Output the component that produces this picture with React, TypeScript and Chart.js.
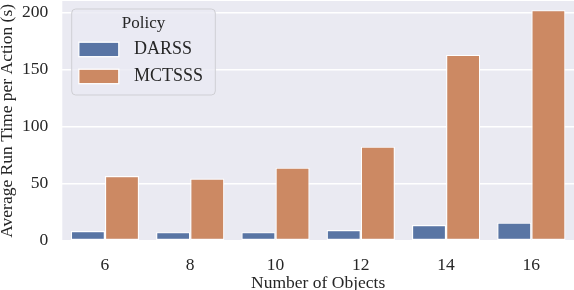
import React, { useEffect, useRef } from "react";
import { Chart, registerables } from "chart.js";

Chart.register(...registerables);

const categories = ["6", "8", "10", "12", "14", "16"];
const seriesNames = ["DARSS", "MCTSSS"];
const darssValues = [8.4, 7.5, 7.5, 9.3, 13.7, 15.8];
const mctsssValues = [56.6, 54.4, 64.0, 82.4, 162.8, 202.0];
const seriesColors = ["#5975a4", "#cc8963"];
const yTicks = [0, 50, 100, 150, 200];
const legendTitle = "Policy";
const xTitle = "Number of Objects";
const yTitle = "Average Run Time per Action (s)";

const FONT = "'Liberation Serif', 'Times New Roman', serif";

const bgPlugin = {
  id: "axesBg",
  beforeDraw(chart: any) {
    const { ctx, chartArea } = chart;
    ctx.save();
    ctx.fillStyle = "#eaeaf2";
    ctx.fillRect(chartArea.left, chartArea.top, chartArea.right - chartArea.left, chartArea.bottom - chartArea.top);
    ctx.restore();
  },
};

const legendPlugin = {
  id: "innerLegend",
  afterDraw(chart: any) {
    const { ctx } = chart;
    const x0 = 71.7, y0 = 9, x1 = 215.3, y1 = 95, r = 4;
    ctx.save();
    ctx.beginPath();
    ctx.moveTo(x0 + r, y0);
    ctx.lineTo(x1 - r, y0);
    ctx.quadraticCurveTo(x1, y0, x1, y0 + r);
    ctx.lineTo(x1, y1 - r);
    ctx.quadraticCurveTo(x1, y1, x1 - r, y1);
    ctx.lineTo(x0 + r, y1);
    ctx.quadraticCurveTo(x0, y1, x0, y1 - r);
    ctx.lineTo(x0, y0 + r);
    ctx.quadraticCurveTo(x0, y0, x0 + r, y0);
    ctx.closePath();
    ctx.fillStyle = "rgba(234,234,242,0.8)";
    ctx.fill();
    ctx.lineWidth = 1;
    ctx.strokeStyle = "#cfcfd4";
    ctx.stroke();

    ctx.fillStyle = "#262626";
    ctx.font = `17px ${FONT}`;
    ctx.textBaseline = "middle";
    ctx.textAlign = "center";
    ctx.fillText(legendTitle, (x0 + x1) / 2, 23.5);

    const rows = [49.2, 76.2];
    chart.data.datasets.forEach((ds: any, i: number) => {
      const cy = rows[i];
      ctx.fillStyle = ds.backgroundColor;
      ctx.fillRect(78.8, cy - 7, 40, 14.5);
      ctx.strokeStyle = "#ffffff";
      ctx.lineWidth = 1.3;
      ctx.strokeRect(78.8, cy - 7, 40, 14.5);
      ctx.fillStyle = "#262626";
      ctx.font = `18px ${FONT}`;
      ctx.textAlign = "left";
      ctx.fillText(ds.label, 134, cy + 0.5);
    });
    ctx.restore();
  },
};

export default function App() {
  const ref = useRef<HTMLCanvasElement | null>(null);
  useEffect(() => {
    if (!ref.current) return;
    const chart = new Chart(ref.current, {
      type: "bar",
      data: {
        labels: categories,
        datasets: [
          {
            label: seriesNames[0],
            data: darssValues,
            backgroundColor: seriesColors[0],
            borderColor: "#ffffff",
            borderWidth: 1.2,
            borderSkipped: false,
            categoryPercentage: 0.8,
            barPercentage: 1.0,
          },
          {
            label: seriesNames[1],
            data: mctsssValues,
            backgroundColor: seriesColors[1],
            borderColor: "#ffffff",
            borderWidth: 1.2,
            borderSkipped: false,
            categoryPercentage: 0.8,
            barPercentage: 1.0,
          },
        ],
      },
      options: {
        animation: false,
        responsive: true,
        maintainAspectRatio: false,
        layout: { padding: { top: 1, right: 0, left: 0, bottom: 0 } },
        plugins: {
          legend: { display: false },
          tooltip: { enabled: false },
        },
        scales: {
          x: {
            type: "category",
            offset: true,
            grid: { display: false, drawTicks: false },
            border: { display: false },
            ticks: {
              color: "#262626",
              font: { family: FONT, size: 17.5 },
              padding: 14,
              maxRotation: 0,
            },
            title: {
              display: true,
              text: xTitle,
              color: "#262626",
              font: { family: FONT, size: 17.5, lineHeight: 1 },
              padding: { top: 0, bottom: -2 },
            },
            afterFit(scale: any) {
              scale.height = 49.3;
              scale.paddingLeft = 0;
              scale.paddingRight = 0;
            },
          },
          y: {
            min: 0,
            max: 210,
            afterBuildTicks(scale: any) {
              scale.ticks = yTicks.map((v) => ({ value: v }));
            },
            grid: { color: "#ffffff", lineWidth: 1.5, drawTicks: false },
            border: { display: false },
            ticks: {
              color: "#262626",
              font: { family: FONT, size: 17.5 },
              padding: 14,
            },
            title: {
              display: true,
              text: yTitle,
              color: "#262626",
              font: { family: FONT, size: 17.5, lineHeight: 1 },
              padding: { top: -1, bottom: 0 },
            },
            afterFit(scale: any) {
              scale.width = 62.3;
              scale.paddingTop = 0;
              scale.paddingBottom = 0;
            },
          },
        },
      },
      plugins: [bgPlugin, legendPlugin],
    });
    return () => chart.destroy();
  }, []);
  return (
    <div style={{ position: "fixed", left: 0, top: 0, width: 574, height: 290 }}>
      <canvas ref={ref} />
    </div>
  );
}
